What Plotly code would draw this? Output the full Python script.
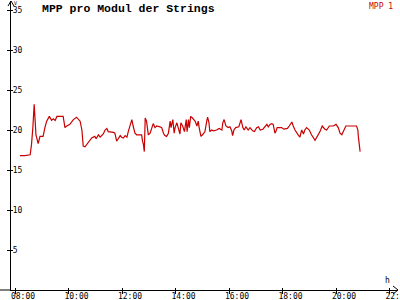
import plotly.graph_objects as go

times = ["08:11","08:22","08:34","08:37","08:40","08:41","08:43","08:47","08:52","08:56",
"09:03","09:07","09:11","09:17","09:22","09:26","09:30","09:34","09:48","09:52","09:56",
"10:03","10:11","10:18","10:26","10:30","10:33","10:37","10:44","10:52","10:59",
"11:02","11:07","11:11","11:18","11:22","11:26","11:29","11:41","11:44","11:48","11:52","11:56","11:59",
"12:03","12:07","12:11","12:14","12:18","12:22","12:25","12:29","12:33","12:44","12:46","12:48","12:50","12:52","12:55","12:59",
"13:03","13:07","13:10","13:14","13:18","13:25","13:29","13:33","13:36","13:40","13:44","13:48","13:50","13:54","13:57","13:59",
"14:03","14:06","14:10","14:12","14:16","14:20","14:24","14:26","14:29","14:31","14:34","14:38","14:44","14:48","14:51","14:53","14:57",
"15:02","15:06","15:10","15:12","15:15","15:17","15:21","15:25","15:32","15:38","15:44","15:46","15:49","15:53","15:58",
"16:02","16:06","16:08","16:11","16:15","16:22","16:27","16:31","16:34","16:38","16:43","16:47","16:53","16:57",
"17:02","17:06","17:10","17:16","17:21","17:25","17:28","17:32","17:36","17:39","17:43","17:45","17:48","17:58",
"18:03","18:11","18:15","18:21","18:24","18:28","18:35","18:39","18:43","18:47","18:50","18:54",
"19:00","19:05","19:13","19:18","19:24","19:29","19:35","19:39","19:45","19:54",
"20:00","20:05","20:09","20:13","20:16","20:22","20:46","20:49","20:50","20:52","20:54"]

mpp1 = [16.8,16.8,16.9,18.2,20.3,21.5,23.2,19.4,18.3,19.2,
19.2,20.3,21.1,21.7,21.2,21.4,21.2,21.7,21.7,20.3,20.5,
20.7,21.3,21.6,21.1,20.0,18.0,17.9,18.4,19.0,19.2,
18.9,19.4,19.1,19.5,20.0,20.2,19.8,19.7,19.6,18.6,19.0,19.3,19.1,
19.0,19.3,19.1,19.8,20.5,21.3,20.5,19.6,19.4,19.4,18.6,18.2,17.3,21.5,21.1,19.4,
19.6,20.3,20.8,20.3,20.5,20.4,20.3,19.6,19.3,19.2,19.6,21.1,20.3,21.3,19.6,20.3,
20.9,20.3,19.5,20.9,20.5,19.8,21.3,19.8,21.3,20.3,21.7,21.5,21.1,20.5,21.1,20.3,19.2,
19.5,19.8,21.1,21.6,20.9,19.8,20.0,19.9,20.0,20.2,20.0,20.9,21.3,20.5,20.3,
20.4,19.9,19.3,20.0,20.3,20.4,21.3,20.3,20.0,20.4,20.0,20.3,19.9,19.8,
20.3,20.4,20.0,20.1,20.4,20.7,20.4,20.7,20.8,20.7,19.6,19.8,20.3,20.3,
20.1,20.2,20.5,21.0,20.5,20.0,19.4,19.1,20.0,19.5,20.0,20.3,
20.0,19.4,18.7,19.2,19.8,20.5,20.1,20.0,20.5,20.5,
20.7,20.3,19.6,19.4,19.8,20.5,20.5,20.0,19.2,18.4,17.3]

y_ticks = [5, 10, 15, 20, 25, 30, 35]
x_tick_labels = ["08:00", "10:00", "12:00", "14:00", "16:00", "18:00", "20:00", "22:00"]

day = "2024-06-01 "
xs = [day + t for t in times]
xtv = [day + t for t in x_tick_labels]
NB = "\u00a0"
ytt = [str(v) if v >= 10 else str(v) + NB for v in y_ticks]

LINE = "#c80000"
FONT = "DejaVu Sans Mono"

fig = go.Figure()
fig.add_trace(go.Scatter(x=xs, y=mpp1, mode="lines", line=dict(color=LINE, width=1.2),
                         showlegend=False, hoverinfo="skip"))
fig.add_trace(go.Scatter(x=xs, y=mpp1, mode="lines", xaxis="x2", yaxis="y2", opacity=0,
                         line=dict(width=0.1), showlegend=False, hoverinfo="skip"))

xr = [day + "07:51", day + "22:19"]
yr = [0, 36.125]

fig.update_layout(
    width=400, height=300,
    margin=dict(l=11, r=2, t=1, b=10),
    paper_bgcolor="white", plot_bgcolor="white",
    font=dict(family=FONT, size=8, color="black"),
    xaxis=dict(type="date", range=xr, showgrid=False, zeroline=False, automargin=False,
               showline=True, linecolor="black", linewidth=1,
               tickvals=xtv, ticktext=x_tick_labels, ticks="outside", ticklen=3,
               tickcolor="black", tickwidth=1, ticklabeloverflow="allow",
               ticklabelstandoff=-5, ticklabelshift=8,
               tickfont=dict(family=FONT, size=8, color="black")),
    yaxis=dict(range=yr, showgrid=False, zeroline=False, automargin=False,
               showline=True, linecolor="black", linewidth=1,
               tickvals=y_ticks, ticktext=ytt, ticks="outside", ticklen=3, tickcolor="black",
               tickwidth=1, ticklabelstandoff=-17, ticklabeloverflow="allow",
               tickfont=dict(family=FONT, size=8, color="black")),
    xaxis2=dict(type="date", range=xr, overlaying="x", showgrid=False, zeroline=False,
                automargin=False, showline=False, tickvals=xtv, ticks="inside", ticklen=2,
                tickcolor="black", showticklabels=False),
    yaxis2=dict(range=yr, overlaying="y", showgrid=False, zeroline=False, automargin=False,
                showline=False, tickvals=y_ticks, ticks="inside", ticklen=2, tickcolor="black",
                showticklabels=False),
)

# title
fig.add_annotation(text="<b>MPP pro Modul der Strings</b>", xref="paper", yref="paper",
                   x=(40 - 11) / 387, y=1, yshift=1, xanchor="left", yanchor="top", showarrow=False,
                   font=dict(family="Liberation Mono", size=11.5, color="black"))
# legend
fig.add_annotation(text="MPP 1", xref="paper", yref="paper", x=(395 - 11) / 387, y=1, yshift=1,
                   xanchor="right", yanchor="top", showarrow=False,
                   font=dict(family=FONT, size=8, color=LINE))
# axis unit labels
fig.add_annotation(text="V", xref="paper", yref="paper", x=0, xshift=1, y=1, yshift=3,
                   xanchor="left", yanchor="top", showarrow=False,
                   font=dict(family=FONT, size=5, color="black"))
fig.add_annotation(text="h", xref="paper", yref="paper", x=(387 - 11) / 387, y=0, yshift=3,
                   xanchor="center", yanchor="bottom", showarrow=False,
                   font=dict(family=FONT, size=8, color="black"))

# axis arrowheads and left stub of the x axis
arrow = dict(type="line", line=dict(color="black", width=1))
fig.add_shape(**arrow, xref="paper", yref="paper", xsizemode="pixel", ysizemode="pixel",
              xanchor=1, yanchor=0, x0=-5, x1=0, y0=4, y1=0)
fig.add_shape(**arrow, xref="paper", yref="paper", xsizemode="pixel", ysizemode="pixel",
              xanchor=1, yanchor=0, x0=-5, x1=0, y0=-4, y1=0)
fig.add_shape(**arrow, xref="paper", yref="paper", xsizemode="pixel", ysizemode="pixel",
              xanchor=0, yanchor=1, x0=-3, x1=0, y0=-5, y1=0)
fig.add_shape(**arrow, xref="paper", yref="paper", xsizemode="pixel", ysizemode="pixel",
              xanchor=0, yanchor=1, x0=3, x1=0, y0=-5, y1=0)
fig.add_shape(**arrow, xref="paper", yref="paper", xsizemode="pixel", ysizemode="pixel",
              xanchor=0, yanchor=0, x0=-11, x1=0, y0=0, y1=0)

fig.write_html("out.html")
